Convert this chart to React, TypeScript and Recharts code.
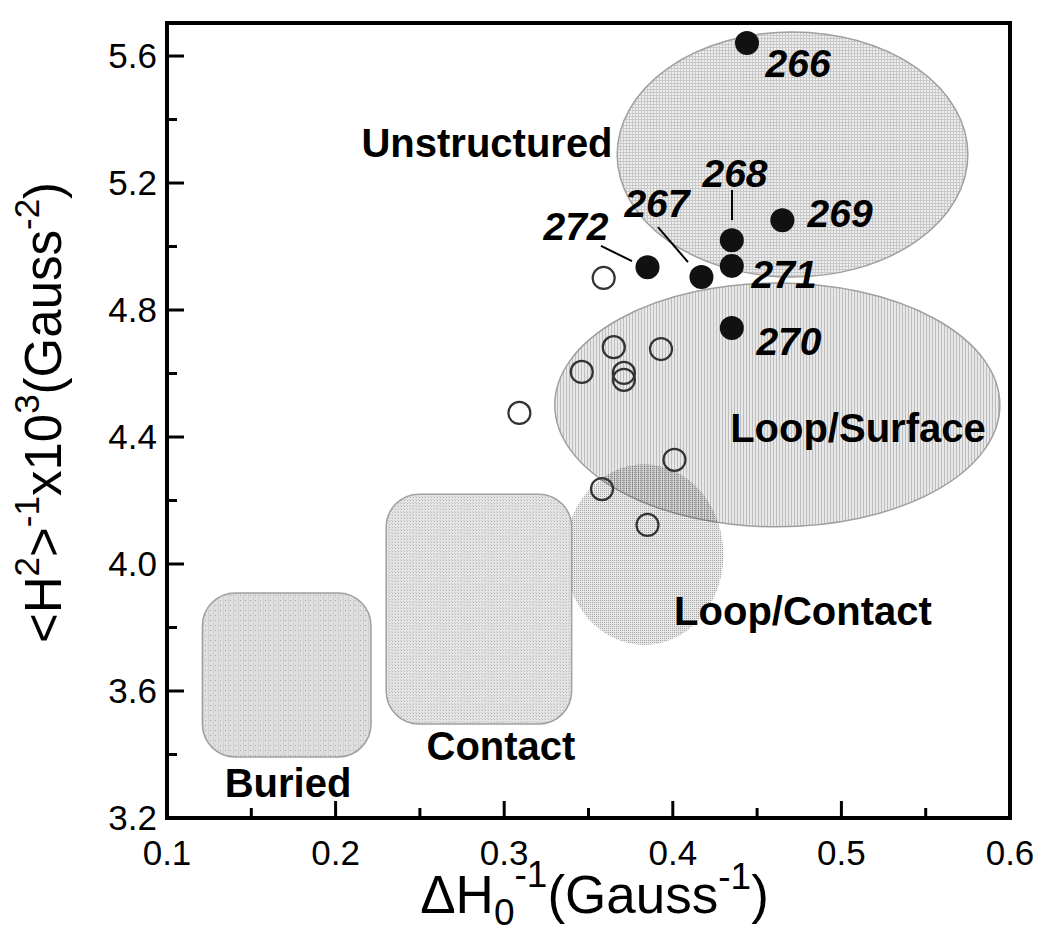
import React from "react";
import {
  ComposedChart,
  Scatter,
  XAxis,
  YAxis,
  ReferenceArea,
  ReferenceLine,
  ReferenceDot,
} from "recharts";

const FONT = "'Liberation Sans', Arial, Helvetica, sans-serif";

// axis ticks (major every 0.1 / 0.4, minor in between)
const xTicks = [0.1, 0.15, 0.2, 0.25, 0.3, 0.35, 0.4, 0.45, 0.5, 0.55, 0.6];
const xMajor = [0.1, 0.2, 0.3, 0.4, 0.5, 0.6];
const yTicks = [3.2, 3.4, 3.6, 3.8, 4.0, 4.2, 4.4, 4.6, 4.8, 5.0, 5.2, 5.4, 5.6];
const yMajor = [3.2, 3.6, 4.0, 4.4, 4.8, 5.2, 5.6];

// labelled residues (filled)
const labelledPoints = [
  { id: "266", x: 0.444, y: 5.641 },
  { id: "268", x: 0.435, y: 5.02 },
  { id: "269", x: 0.465, y: 5.083 },
  { id: "272", x: 0.385, y: 4.935 },
  { id: "267", x: 0.417, y: 4.904 },
  { id: "271", x: 0.435, y: 4.939 },
  { id: "270", x: 0.435, y: 4.743 },
];

// reference residues (open)
const otherPoints = [
  { x: 0.359, y: 4.901 },
  { x: 0.365, y: 4.683 },
  { x: 0.393, y: 4.677 },
  { x: 0.346, y: 4.605 },
  { x: 0.371, y: 4.602 },
  { x: 0.371, y: 4.58 },
  { x: 0.309, y: 4.476 },
  { x: 0.401, y: 4.328 },
  { x: 0.358, y: 4.236 },
  { x: 0.385, y: 4.123 },
];

const numberLabels = [
  { text: "266", x: 0.4743, y: 5.534 },
  { text: "268", x: 0.4369, y: 5.187 },
  { text: "267", x: 0.3906, y: 5.093 },
  { text: "272", x: 0.3426, y: 5.02 },
  { text: "269", x: 0.4992, y: 5.061 },
  { text: "271", x: 0.466, y: 4.869 },
  { text: "270", x: 0.4689, y: 4.658 },
];

const leaderLines = [
  { id: "268", x1: 0.4351, y1: 5.178, x2: 0.4351, y2: 5.083 },
  { id: "267", x1: 0.3912, y1: 5.061, x2: 0.409, y2: 4.951 },
  { id: "272", x1: 0.3574, y1: 5.002, x2: 0.3758, y2: 4.954 },
];

// environment regions, drawn in this order
const regions = [
  { name: "Loop/Surface", kind: "ellipse", x1: 0.33, x2: 0.594, y1: 4.117, y2: 4.885, fill: "url(#pSurface)", stroke: "#a0a0a0" },
  { name: "Loop/Contact", kind: "ellipse", x1: 0.336, x2: 0.43, y1: 3.745, y2: 4.314, fill: "url(#pLoopContact)", stroke: "none" },
  { name: "Contact", kind: "rect", x1: 0.23, x2: 0.34, y1: 3.496, y2: 4.22, fill: "url(#pContact)", stroke: "#a0a0a0" },
  { name: "Buried", kind: "rect", x1: 0.121, x2: 0.221, y1: 3.392, y2: 3.909, fill: "url(#pBuried)", stroke: "#a0a0a0" },
  { name: "Unstructured", kind: "ellipse", x1: 0.367, x2: 0.575, y1: 4.904, y2: 5.676, fill: "url(#pUnstr)", stroke: "#a0a0a0" },
];

const regionLabels = [
  { text: "Unstructured", x: 0.2898, y: 5.282 },
  { text: "Loop/Surface", x: 0.5098, y: 4.384 },
  { text: "Loop/Contact", x: 0.4772, y: 3.808 },
  { text: "Contact", x: 0.2981, y: 3.383 },
  { text: "Buried", x: 0.1718, y: 3.266 },
];

const isMajor = (v: number, list: number[]) => list.some((m) => Math.abs(m - v) < 1e-6);

const XTick = (props: any) => {
  const { x, y, payload } = props;
  const major = isMajor(payload.value, xMajor);
  return (
    <g>
      <line x1={x} x2={x} y1={y} y2={y - (major ? 17 : 10)} stroke="#000" strokeWidth={3} />
      {major && (
        <text x={x} y={y + 47} textAnchor="middle" fontFamily={FONT} fontSize={35} fill="#000">
          {payload.value.toFixed(1)}
        </text>
      )}
    </g>
  );
};

const YTick = (props: any) => {
  const { x, y, payload } = props;
  const major = isMajor(payload.value, yMajor);
  return (
    <g>
      <line x1={x} x2={x + (major ? 17 : 10)} y1={y} y2={y} stroke="#000" strokeWidth={3} />
      {major && (
        <text x={x - 10} y={y + 12} textAnchor="end" fontFamily={FONT} fontSize={35} fill="#000">
          {payload.value.toFixed(1)}
        </text>
      )}
    </g>
  );
};

const XTitle = (props: any) => {
  const { viewBox } = props;
  const cx = viewBox.x + viewBox.width / 2 + 6;
  const by = viewBox.y + 95;
  return (
    <text x={cx} y={by} textAnchor="middle" fontFamily={FONT} fontSize={53} fill="#000">
      ΔH
      <tspan fontSize={37} dy={12}>0</tspan>
      <tspan fontSize={37} dy={-38}>-1</tspan>
      <tspan dy={26}>(Gauss</tspan>
      <tspan fontSize={37} dy={-24}>-1</tspan>
      <tspan dy={24}>)</tspan>
    </text>
  );
};

const YTitle = (props: any) => {
  const { viewBox } = props;
  const bx = 53;
  const cy = viewBox.y + viewBox.height / 2 - 8;
  return (
    <text
      x={bx}
      y={cy}
      textAnchor="middle"
      fontFamily={FONT}
      fontSize={51}
      fill="#000"
      transform={`rotate(-90 ${bx} ${cy})`}
    >
      {"<H"}
      <tspan fontSize={35} dy={-22}>2</tspan>
      <tspan dy={22}>{">"}</tspan>
      <tspan fontSize={35} dy={-22}>-1</tspan>
      <tspan dy={22}>x10</tspan>
      <tspan fontSize={35} dy={-22}>3</tspan>
      <tspan dy={22}>(Gauss</tspan>
      <tspan fontSize={35} dy={-22}>-2</tspan>
      <tspan dy={22}>)</tspan>
    </text>
  );
};

const regionShape = (r: any) => (p: any) => {
  const { x, y, width, height } = p;
  if (r.kind === "ellipse") {
    return (
      <ellipse
        cx={x + width / 2}
        cy={y + height / 2}
        rx={width / 2}
        ry={height / 2}
        fill={r.fill}
        stroke={r.stroke}
        strokeWidth={1.5}
      />
    );
  }
  return (
    <rect x={x} y={y} width={width} height={height} rx={33} ry={33} fill={r.fill} stroke={r.stroke} strokeWidth={1.5} />
  );
};

export default function App() {
  return (
    <ComposedChart
      width={1042}
      height={939}
      margin={{ top: 15, right: 40, bottom: 0, left: 0 }}
      style={{ background: "#fff" }}
    >
      <defs>
        <pattern id="pUnstr" width="3" height="3" patternUnits="userSpaceOnUse">
          <rect width="3" height="3" fill="#eeeeee" />
          <rect width="3" height="1" fill="#c8c8c8" />
          <rect width="1" height="3" fill="#c8c8c8" />
        </pattern>
        <pattern id="pSurface" width="3" height="3" patternUnits="userSpaceOnUse">
          <rect width="3" height="3" fill="#e8e8e8" />
          <rect width="1" height="3" fill="#bdbdbd" />
        </pattern>
        <pattern id="pLoopContact" width="2" height="2" patternUnits="userSpaceOnUse">
          <rect width="2" height="2" fill="rgba(0,0,0,0.09)" />
          <rect width="1" height="1" fill="rgba(0,0,0,0.3)" />
        </pattern>
        <pattern id="pContact" width="3" height="3" patternUnits="userSpaceOnUse">
          <rect width="3" height="3" fill="#e4e4e4" />
          <rect width="1" height="1" fill="#b8b8b8" />
          <rect x="2" y="2" width="1" height="1" fill="#cacaca" />
        </pattern>
        <pattern id="pBuried" width="5" height="5" patternUnits="userSpaceOnUse">
          <rect width="5" height="5" fill="#dfdfdf" />
          <rect width="1" height="5" fill="#d0d0d0" />
          <rect x="2" y="2" width="1" height="1" fill="#a8a8a8" />
        </pattern>
      </defs>

      <XAxis
        type="number"
        dataKey="x"
        domain={[0.1, 0.6]}
        ticks={xTicks}
        interval={0}
        allowDataOverflow
        height={129}
        tickSize={0}
        tickMargin={0}
        tickLine={false}
        axisLine={{ stroke: "#000", strokeWidth: 4 }}
        tick={<XTick />}
        label={<XTitle />}
      />
      <YAxis
        type="number"
        dataKey="y"
        domain={[3.2, 5.704]}
        ticks={yTicks}
        interval={0}
        allowDataOverflow
        width={159}
        tickSize={0}
        tickMargin={0}
        tickLine={false}
        axisLine={{ stroke: "#000", strokeWidth: 4 }}
        tick={<YTick />}
        label={<YTitle />}
      />

      {regions.map((r) => (
        <ReferenceArea
          key={r.name}
          x1={r.x1}
          x2={r.x2}
          y1={r.y1}
          y2={r.y2}
          ifOverflow="visible"
          shape={regionShape(r)}
        />
      ))}

      <ReferenceArea
        x1={0.1}
        x2={0.6}
        y1={3.2}
        y2={5.704}
        ifOverflow="visible"
        fill="none"
        fillOpacity={0}
        stroke="#000"
        strokeWidth={4}
      />

      {leaderLines.map((l) => (
        <ReferenceLine
          key={l.id}
          segment={[
            { x: l.x1, y: l.y1 },
            { x: l.x2, y: l.y2 },
          ]}
          stroke="#000"
          strokeWidth={2}
          ifOverflow="visible"
        />
      ))}

      <Scatter
        data={otherPoints}
        isAnimationActive={false}
        shape={(p: any) => <circle cx={p.cx} cy={p.cy} r={11} fill="none" stroke="#333" strokeWidth={2.2} />}
      />
      <Scatter
        data={labelledPoints}
        isAnimationActive={false}
        shape={(p: any) => <circle cx={p.cx} cy={p.cy} r={12} fill="#111" />}
      />

      {numberLabels.map((l) => (
        <ReferenceDot
          key={l.text}
          x={l.x}
          y={l.y}
          r={0}
          ifOverflow="visible"
          shape={(p: any) => (
            <text
              x={p.cx}
              y={p.cy}
              textAnchor="middle"
              fontFamily={FONT}
              fontSize={39}
              fontWeight="bold"
              fontStyle="italic"
              fill="#000"
            >
              {l.text}
            </text>
          )}
        />
      ))}

      {regionLabels.map((l) => (
        <ReferenceDot
          key={l.text}
          x={l.x}
          y={l.y}
          r={0}
          ifOverflow="visible"
          shape={(p: any) => (
            <text x={p.cx} y={p.cy} textAnchor="middle" fontFamily={FONT} fontSize={40} fontWeight="bold" fill="#000">
              {l.text}
            </text>
          )}
        />
      ))}
    </ComposedChart>
  );
}
